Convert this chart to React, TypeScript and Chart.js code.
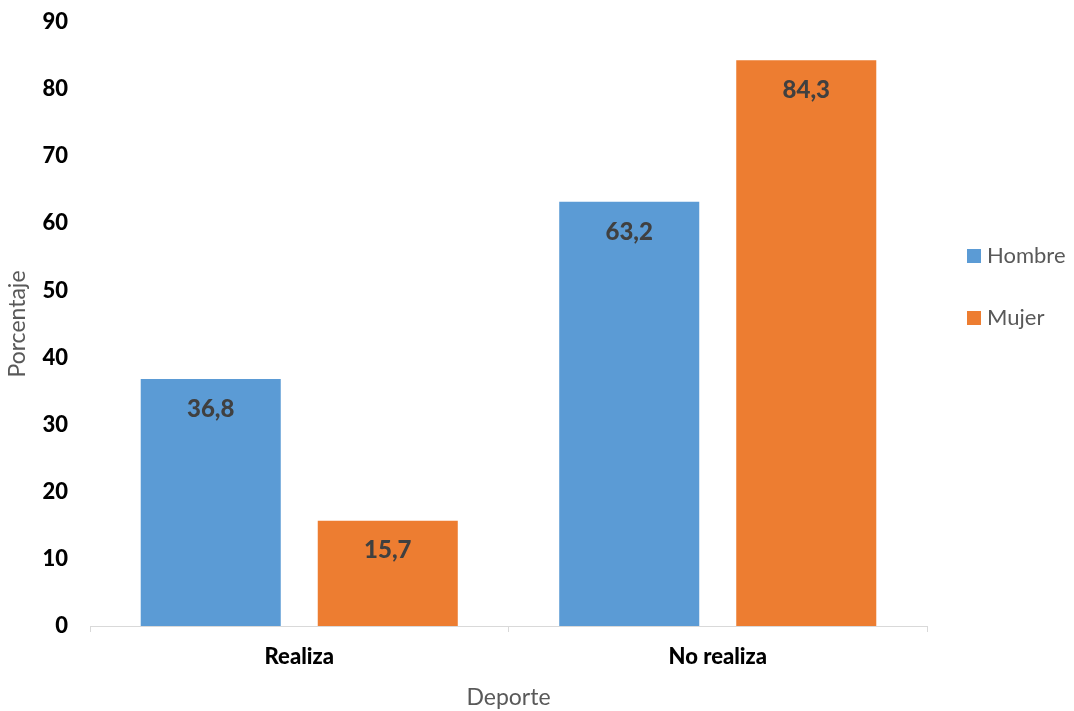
import React, { useEffect, useRef } from "react";
import { Chart, registerables } from "chart.js";

Chart.register(...registerables);

const categories = ["Realiza", "No realiza"];
const seriesNames = ["Hombre", "Mujer"];
const hombre = [36.8, 63.2];
const mujer = [15.7, 84.3];
const colors = ["#5B9BD5", "#ED7D31"];
const yTicksMax = 90;

const FONT = "Lato, 'Open Sans', sans-serif";

const fmt = (v: number) => v.toFixed(1).replace(".", ",");

const dataLabelPlugin = {
  id: "dataLabels",
  afterDatasetsDraw(chart: any) {
    const ctx = chart.ctx;
    ctx.save();
    ctx.font = `900 24px ${FONT}`;
    ctx.fillStyle = "#404040";
    ctx.textAlign = "center";
    ctx.textBaseline = "middle";
    chart.data.datasets.forEach((ds: any, i: number) => {
      const meta = chart.getDatasetMeta(i);
      meta.data.forEach((bar: any, j: number) => {
        ctx.fillText(fmt(ds.data[j]), bar.x, bar.y + 30);
      });
    });
    ctx.restore();
  },
};

const legendPlugin = {
  id: "customLegend",
  afterDraw(chart: any) {
    const ctx = chart.ctx;
    ctx.save();
    ctx.font = `22px ${FONT}`;
    ctx.textBaseline = "middle";
    ctx.textAlign = "left";
    chart.data.datasets.forEach((ds: any, i: number) => {
      const y = 256 + i * 62;
      ctx.fillStyle = ds.backgroundColor;
      ctx.fillRect(967, y - 7, 14, 14);
      ctx.fillStyle = "#595959";
      ctx.fillText(ds.label, 987, y);
    });
    ctx.restore();
  },
};

export default function App() {
  const ref = useRef<HTMLCanvasElement>(null);
  useEffect(() => {
    if (!ref.current) return;
    const chart = new Chart(ref.current, {
      type: "bar",
      data: {
        labels: categories,
        datasets: [
          { label: seriesNames[0], data: hombre, backgroundColor: colors[0] },
          { label: seriesNames[1], data: mujer, backgroundColor: colors[1] },
        ],
      },
      options: {
        animation: false,
        responsive: false,
        maintainAspectRatio: false,
        datasets: { bar: { categoryPercentage: 0.846, barPercentage: 0.791 } },
        layout: { padding: { top: 22, right: 147, left: 0, bottom: 0 } },
        plugins: { legend: { display: false }, tooltip: { enabled: false } },
        scales: {
          y: {
            min: 0,
            max: yTicksMax,
            ticks: {
              stepSize: 10,
              color: "#000000",
              font: { family: FONT, size: 22, weight: "900" },
              padding: 14,
            },
            grid: { display: false },
            border: { display: false },
            title: {
              display: true,
              text: "Porcentaje",
              color: "#595959",
              font: { family: FONT, size: 23 },
              padding: { top: 4, bottom: 0 },
            },
            afterFit(axis: any) {
              axis.width = 90;
              axis.paddingTop = 0;
              axis.paddingBottom = 0;
            },
          },
          x: {
            ticks: {
              color: "#000000",
              font: { family: FONT, size: 22, weight: "900" },
              padding: 12,
            },
            grid: {
              display: true,
              drawOnChartArea: false,
              drawTicks: true,
              tickLength: 6,
              offset: true,
              color: "#D9D9D9",
            },
            border: { display: true, color: "#D9D9D9", width: 1 },
            title: {
              display: true,
              text: "Deporte",
              color: "#595959",
              font: { family: FONT, size: 23 },
              padding: { top: 8, bottom: 0 },
            },
            afterFit(axis: any) {
              axis.height = 85;
            },
          },
        },
      },
      plugins: [dataLabelPlugin, legendPlugin],
    });
    return () => chart.destroy();
  }, []);
  return (
    <div style={{ position: "fixed", left: 0, top: 0, width: 1074, height: 711, background: "#fff" }}>
      <canvas ref={ref} width={1074} height={711} style={{ display: "block" }} />
    </div>
  );
}
